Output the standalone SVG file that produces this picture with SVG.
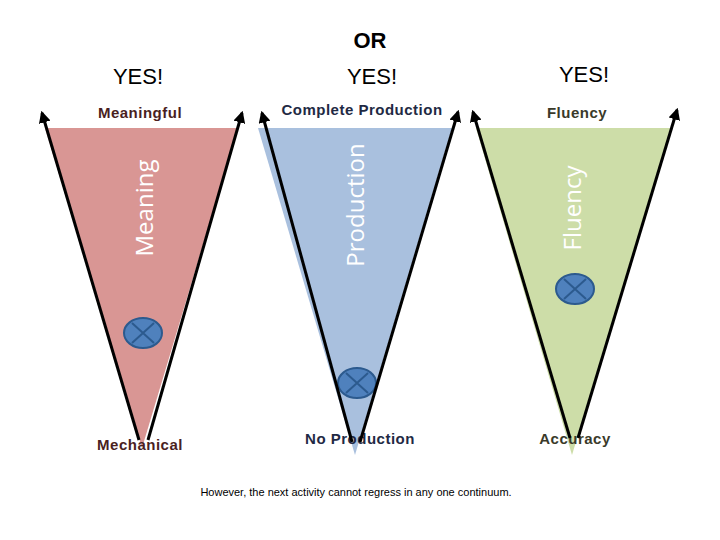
<svg xmlns="http://www.w3.org/2000/svg" width="720" height="540" viewBox="0 0 720 540">
<defs>
<marker id="ah" viewBox="0 0 10 10" refX="8" refY="5" markerWidth="4" markerHeight="4" orient="auto"><path d="M0,0 L10,5 L0,10 z" fill="#000"/></marker>
<g id="xc"><ellipse cx="0" cy="0" rx="19" ry="15" fill="#4F81BD" stroke="#2C5A8E" stroke-width="2"/><path d="M-11,-10 L11,10 M-11,10 L11,-10" stroke="#2C5A8E" stroke-width="2"/></g>
</defs>
<style>
.hd{font-family:"Liberation Sans",Arial,sans-serif;font-size:22px;text-anchor:middle;fill:#000}
.lb{font-family:"Liberation Sans",Arial,sans-serif;font-size:15px;font-weight:bold;text-anchor:middle;letter-spacing:0.5px}
.vt{font-family:"Open Sans","DejaVu Sans",sans-serif;font-size:24px;fill:#fff;text-anchor:middle}
.ar{stroke:#000;stroke-width:3;fill:none;marker-end:url(#ah)}
</style>
<rect width="720" height="540" fill="#fff"/>
<text x="370" y="48" class="hd" font-weight="bold" font-size="30">OR</text>
<text x="138" y="84" class="hd">YES!</text>
<text x="372" y="84" class="hd">YES!</text>
<text x="584" y="82" class="hd">YES!</text>
<g id="meaning">
<polygon points="45,128 238,128 142,448" fill="#D99694"/>
<text class="vt" transform="translate(153,208) rotate(-90)">Meaning</text>
<text x="140" y="118" class="lb" fill="#4A1F1F">Meaningful</text>
<text x="140" y="450" class="lb" fill="#4A1F1F">Mechanical</text>
<use href="#xc" x="143" y="333"/>
</g>
<g id="production">
<polygon points="258,128 452,128 355,455" fill="#A9C0DE"/>
<text class="vt" transform="translate(364,205) rotate(-90)">Production</text>
<text x="362" y="115" class="lb" fill="#1F2A44">Complete Production</text>
<text x="360" y="444" class="lb" fill="#1F2A44">No Production</text>
<use href="#xc" x="357" y="383"/>
</g>
<g id="fluency">
<polygon points="476,128 672,128 572,455" fill="#CDDDA8"/>
<text class="vt" transform="translate(581,208) rotate(-90)">Fluency</text>
<text x="577" y="118" class="lb" fill="#3A3A2A">Fluency</text>
<text x="575" y="444" class="lb" fill="#3A3A2A">Accuracy</text>
<use href="#xc" x="575" y="289"/>
</g>
<g id="connectors">
<line class="ar" x1="139" y1="440" x2="42" y2="113"/>
<line class="ar" x1="148" y1="440" x2="242" y2="113"/>
<line class="ar" x1="352" y1="442" x2="262" y2="113"/>
<line class="ar" x1="360" y1="442" x2="458" y2="112"/>
<line class="ar" x1="570" y1="438" x2="473" y2="112"/>
<line class="ar" x1="578" y1="438" x2="677" y2="110"/>
</g>
<text x="356" y="496" font-family="Liberation Sans,Arial,sans-serif" font-size="11" text-anchor="middle" fill="#000">However,  the next activity cannot regress in any one continuum.</text>
</svg>
